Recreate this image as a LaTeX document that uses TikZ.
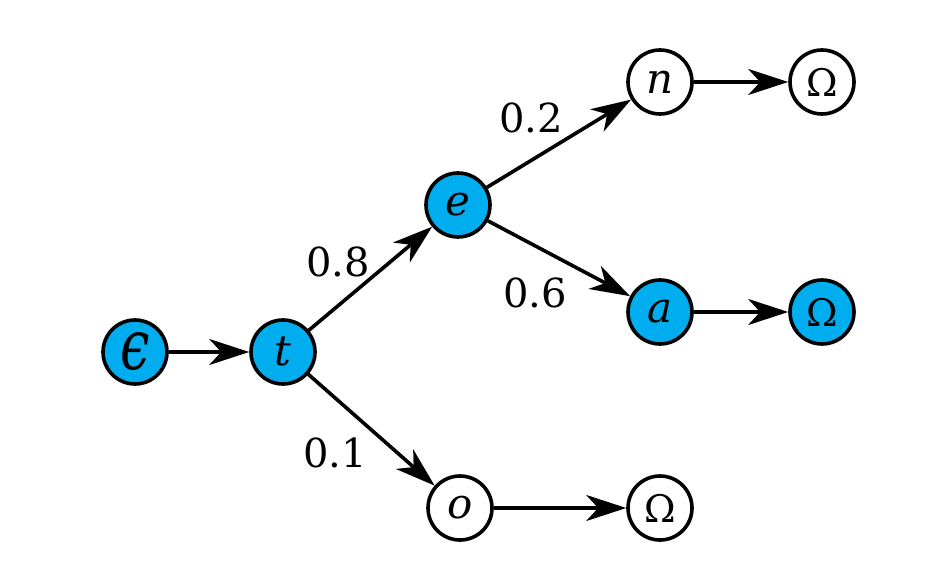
\documentclass[tikz,border=0pt]{standalone}
\usepackage{fontspec}
\usepackage{graphicx}
\setmainfont{DejaVu Serif}
\usetikzlibrary{arrows.meta}
\definecolor{nodeblue}{RGB}{0,174,239}
\tikzset{
  st/.style={circle,draw=black,line width=1.8pt,minimum size=32pt,inner sep=0pt,fill=white,font=\fontsize{21}{24}\selectfont\itshape},
  hot/.style={st,fill=nodeblue},
  om/.style={font=\fontsize{19}{22}\selectfont},
  edge/.style={line width=1.8pt,-{Stealth[length=20pt,width=13pt,inset=6pt]}},
  lab/.style={font=\fontsize{20}{24}\selectfont}
}
\begin{document}
\begin{tikzpicture}[x=0.5pt,y=-0.5pt]
\useasboundingbox (0,0) rectangle (940,576);
\node[hot] (eps) at (135,352) {\raisebox{-1pt}{\scalebox{1.25}[1.65]{ϵ}}};
\node[hot] (t) at (283,352) {t};
\node[hot] (e) at (458,205) {e};
\node[st] (n) at (660,82) {n};
\node[st,om] (o1) at (822,82) {Ω};
\node[hot] (a) at (660,312) {a};
\node[hot,om] (o2) at (822,312) {Ω};
\node[st] (o) at (460,508) {o};
\node[st,om] (o3) at (660,508) {Ω};
\draw[edge] (eps) -- (t);
\draw[edge] (t) -- (e);
\draw[edge] (t) -- (o);
\draw[edge] (e) -- (n);
\draw[edge] (e) -- (a);
\draw[edge] (n) -- (o1);
\draw[edge] (a) -- (o2);
\draw[edge] (o) -- (o3);
\node[lab] (l1) at (531,118) {0.2};
\node[lab] (l2) at (338,262) {0.8};
\node[lab] (l3) at (535,293) {0.6};
\node[lab] (l4) at (335,453) {0.1};
\end{tikzpicture}
\end{document}
